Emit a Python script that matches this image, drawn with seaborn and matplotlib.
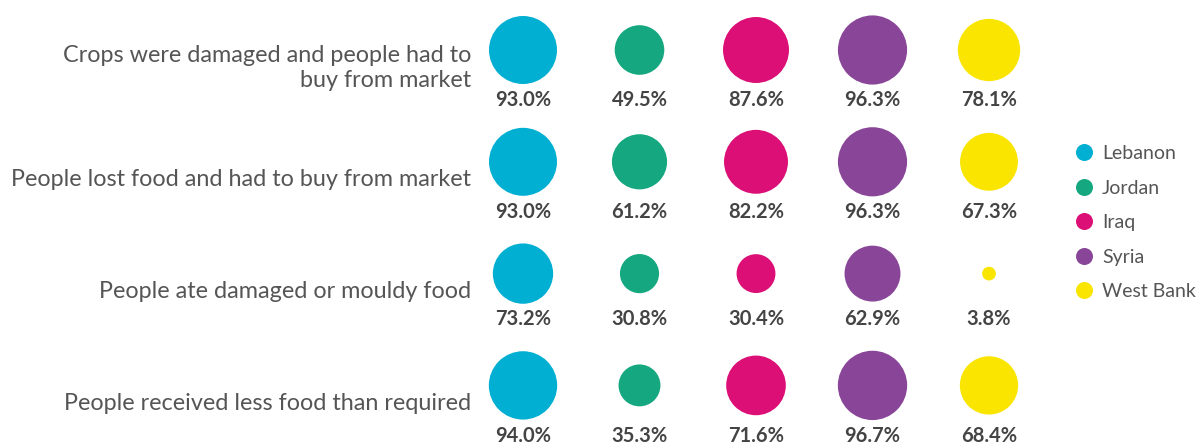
import numpy as np
import pandas as pd
import matplotlib
matplotlib.use("Agg")
import matplotlib.pyplot as plt
from matplotlib.lines import Line2D
import seaborn as sns

# ---- data ----
categories = [
    "Crops were damaged and people had to\nbuy from market",
    "People lost food and had to buy from market",
    "People ate damaged or mouldy food",
    "People received less food than required",
]
countries = ["Lebanon", "Jordan", "Iraq", "Syria", "West Bank"]
lebanon = [93.0, 93.0, 73.2, 94.0]
jordan = [49.5, 61.2, 30.8, 35.3]
iraq = [87.6, 82.2, 30.4, 71.6]
syria = [96.3, 96.3, 62.9, 96.7]
west_bank = [78.1, 67.3, 3.8, 68.4]
colors = ["#00AFD1", "#15A77F", "#DC0F77", "#894698", "#F9E500"]

series = [lebanon, jordan, iraq, syria, west_bank]
rows = []
for c, vals in zip(countries, series):
    for cat, v in zip(categories, vals):
        rows.append({"country": c, "category": cat, "value": v})
df = pd.DataFrame(rows)

# ---- style ----
sns.set_theme(style="white")
plt.rcParams["font.family"] = ["Lato", "DejaVu Sans"]

W, H = 1203, 443
fig = plt.figure(figsize=(W / 100, H / 100), dpi=100)
# axes placement in pixels
x0_px, dx_px = 523.0, 116.5
y0_px, dy_px = 50.0, 111.8
left = (x0_px - dx_px / 2) / W
width = 5 * dx_px / W
top_px = y0_px - dy_px / 2
bottom_px = y0_px + 3.5 * dy_px
ax = fig.add_axes([left, (H - bottom_px) / H, width, (bottom_px - top_px) / H])

D100_px = 70.5
D100_pt = D100_px * 72 / 100
s_max = D100_pt ** 2

sns.scatterplot(
    data=df, x="country", y="category", hue="country", palette=colors,
    hue_order=countries, size="value", size_norm=(0, 100), sizes=(0, s_max),
    linewidth=0, legend=False, ax=ax, clip_on=False, alpha=1,
)
ax.set_xlim(-0.5, 4.5)
ax.set_ylim(3.5, -0.5)
ax.axis("off")

px2pt = 72 / 100
# value labels under bubbles
for i, cat in enumerate(categories):
    vals = [s[i] for s in series]
    rmax_px = 0.5 * D100_px * np.sqrt(max(vals) / 100)
    off = -(rmax_px + 21.5) * px2pt
    for j, v in enumerate(vals):
        ax.annotate(f"{v:.1f}%", xy=(j, i), xytext=(0, off), textcoords="offset points",
                    ha="center", va="baseline", fontsize=14.5, fontweight="bold",
                    color="#444444", annotation_clip=False)
    # category label
    ax.annotate(cat, xy=(0, i), xycoords=ax.get_yaxis_transform(),
                xytext=(6.25 * px2pt, -18 * px2pt), textcoords="offset points",
                ha="right", va="center", fontsize=16.8, color="#555555",
                multialignment="right", annotation_clip=False)

handles = [Line2D([0], [0], marker="o", linestyle="", markersize=17 * px2pt,
                  markerfacecolor=c, markeredgewidth=0) for c in colors]
fig.legend(handles, countries, loc="upper left",
           bbox_to_anchor=(1065 / W, 1 - 135.5 / H), frameon=False,
           fontsize=14, labelcolor="#555555", handlelength=1.0,
           handletextpad=0.4, labelspacing=0.9, borderpad=0)

fig.savefig("out.png", dpi=100)
